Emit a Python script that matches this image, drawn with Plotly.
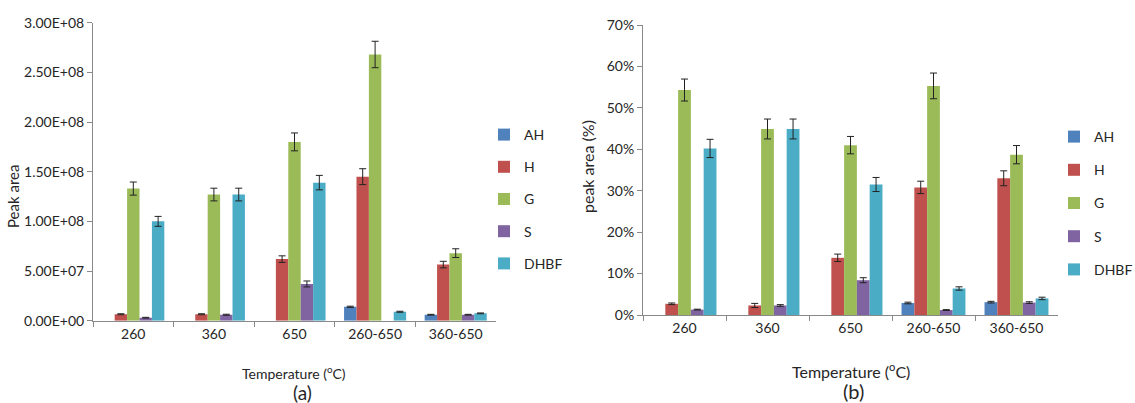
import plotly.graph_objects as go

# Pyrolysis temperatures (°C)
temperatures = ["260", "360", "650", "260-650", "360-650"]
compounds = ["AH", "H", "G", "S", "DHBF"]
colors = ["#4F81BD", "#C0504D", "#9BBB59", "#8064A2", "#4BACC6"]

# (a) absolute peak areas (None = compound not detected)
area_AH = [None, None, None, 1.4e7, 6.0e6]
area_H = [6.5e6, 6.5e6, 6.2e7, 1.45e8, 5.65e7]
area_G = [1.33e8, 1.27e8, 1.80e8, 2.68e8, 6.8e7]
area_S = [3.0e6, 6.0e6, 3.7e7, None, 6.0e6]
area_DHBF = [1.0e8, 1.27e8, 1.39e8, 9.0e6, 7.4e6]

err_AH = [None, None, None, 6e5, 4e5]
err_H = [5e5, 5e5, 3.3e6, 8e6, 3.3e6]
err_G = [6.6e6, 6.4e6, 9e6, 13.3e6, 4.4e6]
err_S = [4e5, 5e5, 3e6, None, 4e5]
err_DHBF = [5e6, 6.4e6, 7.3e6, 5e5, 4e5]

# (b) relative peak areas (%)
pct_AH = [None, None, None, 2.9, 3.1]
pct_H = [2.7, 2.3, 13.8, 30.8, 33.0]
pct_G = [54.3, 44.9, 41.0, 55.3, 38.7]
pct_S = [1.3, 2.3, 8.4, 1.2, 3.0]
pct_DHBF = [40.2, 44.9, 31.5, 6.4, 4.0]

perr_AH = [None, None, None, 0.2, 0.2]
perr_H = [0.2, 0.5, 0.9, 1.5, 1.8]
perr_G = [2.65, 2.4, 2.1, 3.1, 2.2]
perr_S = [0.1, 0.2, 0.6, 0.1, 0.2]
perr_DHBF = [2.2, 2.4, 1.7, 0.4, 0.3]

area_ticks = [0, 5e7, 1e8, 1.5e8, 2e8, 2.5e8, 3e8]
area_ticktext = ["0.00E+00", "5.00E+07", "1.00E+08", "1.50E+08",
                 "2.00E+08", "2.50E+08", "3.00E+08"]
pct_ticks = [0, 10, 20, 30, 40, 50, 60, 70]
pct_ticktext = ["0%", "10%", "20%", "30%", "40%", "50%", "60%", "70%"]

area_series = [area_AH, area_H, area_G, area_S, area_DHBF]
area_errors = [err_AH, err_H, err_G, err_S, err_DHBF]
pct_series = [pct_AH, pct_H, pct_G, pct_S, pct_DHBF]
pct_errors = [perr_AH, perr_H, perr_G, perr_S, perr_DHBF]

FONT = "Lato"
TXT = "#262626"
AXIS = "#898989"

fig = go.Figure()

for name, col, vals, errs in zip(compounds, colors, area_series, area_errors):
    fig.add_trace(go.Bar(
        x=temperatures, y=vals, name=name, marker_color=col,
        marker_line_width=0,
        error_y=dict(type="data", array=errs, color="#222222",
                     thickness=1, width=3.5),
        xaxis="x", yaxis="y", legend="legend", legendgroup="a" + name,
    ))

for name, col, vals, errs in zip(compounds, colors, pct_series, pct_errors):
    fig.add_trace(go.Bar(
        x=temperatures, y=vals, name=name, marker_color=col,
        marker_line_width=0,
        error_y=dict(type="data", array=errs, color="#222222",
                     thickness=1, width=3.5),
        xaxis="x2", yaxis="y2", legend="legend2", legendgroup="b" + name,
    ))

W, H = 1135, 403
axis_common = dict(
    showgrid=False, zeroline=False, showline=True, linecolor=AXIS,
    linewidth=1, ticks="outside", tickcolor=AXIS, ticklen=5,
    automargin=False,
    tickfont=dict(family=FONT, size=14, color=TXT),
)

legend_common = dict(
    font=dict(family=FONT, size=14, color=TXT),
    bgcolor="rgba(0,0,0,0)", traceorder="grouped",
    itemwidth=30, xanchor="left", yanchor="top",
    xref="container", yref="container",
)


def label(text, x, y, size, angle=0):
    return dict(text=text, x=x / W, y=1 - y / H, xref="paper", yref="paper",
                showarrow=False, xanchor="center", yanchor="middle",
                textangle=angle, font=dict(family=FONT, size=size, color=TXT))


fig.update_layout(
    width=W, height=H,
    margin=dict(l=0, r=0, t=0, b=0, autoexpand=False),
    paper_bgcolor="white", plot_bgcolor="white",
    barmode="group", bargap=0.23, bargroupgap=0,
    font=dict(family=FONT, color=TXT),
    xaxis=dict(domain=[93 / W, 496 / W], anchor="y",
               tickson="boundaries", **axis_common),
    yaxis=dict(domain=[82.3 / H, 380.3 / H], anchor="x",
               range=[0, 3e8], tickvals=area_ticks, ticktext=area_ticktext,
               **axis_common),
    xaxis2=dict(domain=[643 / W, 1058 / W], anchor="y2",
                tickson="boundaries", **axis_common),
    yaxis2=dict(domain=[88 / H, 378 / H], anchor="x2",
                range=[0, 70], tickvals=pct_ticks, ticktext=pct_ticktext,
                **axis_common),
    legend=dict(x=484 / W, y=1 - 119 / H, tracegroupgap=11, **legend_common),
    legend2=dict(x=1054 / W, y=1 - 121 / H, tracegroupgap=12, **legend_common),
    annotations=[
        label("Peak area", 13, 197, 15, -90),
        label("peak area (%)", 587, 167, 16, -90),
        label("Temperature (<sup>o</sup>C)", 294, 372, 14),
        label("(a)", 302, 392, 19),
        label("Temperature (<sup>o</sup>C)", 851, 370, 16),
        label("(b)", 853, 391, 20),
    ],
)

fig.write_html("out.html")
